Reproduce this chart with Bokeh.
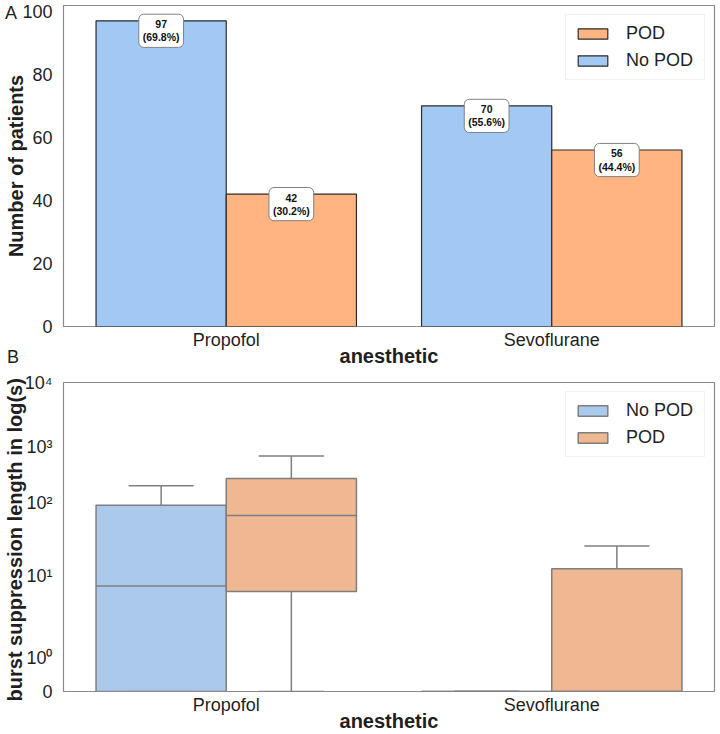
import numpy as np
from bokeh.plotting import figure
from bokeh.models import (ColumnDataSource, FactorRange, FixedTicker, Legend,
                          LegendItem, Range1d, Div)
from bokeh.transform import dodge
from bokeh.layouts import column
from bokeh.core.properties import value
from bokeh.embed import file_html
from bokeh.resources import INLINE

# ---------------- data ----------------
anesthetics = ["Propofol", "Sevoflurane"]

# panel A: number of patients per group
no_pod_counts = [97, 70]
pod_counts = [42, 56]

# panel B: burst suppression length (s), box summaries per anesthetic
no_pod_q1 = [0, 0]
no_pod_median = [7.6, 0]
no_pod_q3 = [94, 0]
no_pod_whisker_lo = [0, 0]
no_pod_whisker_hi = [206, 0]

pod_q1 = [6.5, 0]
pod_median = [68, 0]
pod_q3 = [278, 12.7]
pod_whisker_lo = [0, 0]
pod_whisker_hi = [700, 26]

count_ticks = [0, 20, 40, 60, 80, 100]
bs_tick_values = [0, 1, 10, 100, 1000, 10000]
bs_tick_labels = ["0", "10⁰", "10¹", "10²", "10³", "10⁴"]

# ---------------- style ----------------
FONT = "Liberation Sans"
TXT = "#1f1f1f"
FRAME = "#8a8a8a"
BLUE_A, ORANGE_A = "#a1c9f4", "#ffb482"
BLUE_B, ORANGE_B = "#abc9ea", "#efb792"
BOX_LINE = "#7f7f7f"

# height of each tick of the burst-suppression axis, as a fraction of the axis
bs_axis_fraction = [0.0, 0.110, 0.373, 0.609, 0.790, 1.0]


def bs_axis(v):
    """Map seconds onto the symlog-style axis (linear below 1, decades above)."""
    v = np.asarray(v, dtype=float)
    key = np.where(v >= 1, 1 + np.log10(np.maximum(v, 1)), v)
    return np.interp(key, np.arange(len(bs_axis_fraction)), bs_axis_fraction)


def style_axes(p, ylabel_standoff):
    p.xgrid.visible = False
    p.ygrid.visible = False
    p.outline_line_color = FRAME
    p.outline_line_width = 1.2
    for ax in (p.xaxis, p.yaxis):
        ax.axis_line_color = None
        ax.major_tick_line_color = None
        ax.minor_tick_line_color = None
        ax.major_label_text_font = FONT
        ax.major_label_text_font_size = "18px"
        ax.major_label_text_color = TXT
        ax.axis_label_text_font = FONT
        ax.axis_label_text_font_size = "20px"
        ax.axis_label_text_font_style = "bold"
        ax.axis_label_text_color = TXT
    p.xaxis.major_label_standoff = -3
    p.xaxis.axis_label_standoff = -8
    p.yaxis.major_label_standoff = 5
    p.yaxis.axis_label_standoff = ylabel_standoff


def style_legend(leg):
    leg.location = "top_right"
    leg.label_text_font = FONT
    leg.label_text_font_size = "18px"
    leg.label_text_color = TXT
    leg.glyph_width = 37
    leg.glyph_height = 13
    leg.label_standoff = 15
    leg.label_height = 20
    leg.label_width = 70
    leg.spacing = 6
    leg.padding = 8
    leg.margin = 9
    leg.border_line_color = "#e2e2e2"
    leg.background_fill_alpha = 0.85


def panel_letter(letter, left, top):
    """Panel letter placed on the page, beside the panel's frame."""
    return Div(text=letter, styles={
        "position": "absolute", "left": f"{left}px", "top": f"{top}px",
        "font-family": FONT, "font-size": "18px",
        "line-height": "22px", "color": TXT, "margin": "0",
    })


# ---------------- panel A: patient counts ----------------
def pct_label(n, other):
    return f"{n}\n({100 * n / (n + other):.1f}%)"


src_a = ColumnDataSource(dict(
    anesthetic=anesthetics,
    no_pod=no_pod_counts,
    pod=pod_counts,
    no_pod_label=[pct_label(a, b) for a, b in zip(no_pod_counts, pod_counts)],
    pod_label=[pct_label(b, a) for a, b in zip(no_pod_counts, pod_counts)],
))

pa = figure(width=720, height=369, x_range=FactorRange(*anesthetics),
            y_range=Range1d(0, max(no_pod_counts + pod_counts) * 1.05),
            output_backend="svg", toolbar_location=None,
            min_border_left=60, min_border_right=6,
            min_border_top=5, min_border_bottom=43)
style_axes(pa, -8)
pa.yaxis.ticker = FixedTicker(ticks=count_ticks)
pa.yaxis.axis_label = "Number of patients"
pa.xaxis.axis_label = "anesthetic"

x_no_a = dodge("anesthetic", -0.2, range=pa.x_range)
x_pod_a = dodge("anesthetic", 0.2, range=pa.x_range)
r_no = pa.vbar(x=x_no_a, top="no_pod", width=0.4, source=src_a,
               fill_color=BLUE_A, line_color="#2b2b2b", line_width=1.2)
r_pod = pa.vbar(x=x_pod_a, top="pod", width=0.4, source=src_a,
                fill_color=ORANGE_A, line_color="#2b2b2b", line_width=1.2)

label_style = dict(source=src_a, text_align="center", text_baseline="middle",
                   y_offset=10, text_font=value(FONT), text_font_style="bold",
                   text_font_size="10.5px", text_color="#111111",
                   text_line_height=1.1, background_fill_color="white",
                   border_line_color="#808080", border_line_width=1,
                   padding=4, border_radius=5)
pa.text(x=x_no_a, y="no_pod", text="no_pod_label", **label_style)
pa.text(x=x_pod_a, y="pod", text="pod_label", **label_style)

leg_a = Legend(items=[LegendItem(label="POD", renderers=[r_pod]),
                      LegendItem(label="No POD", renderers=[r_no])])
style_legend(leg_a)
pa.add_layout(leg_a)

# ---------------- panel B: burst suppression length ----------------
src_b = ColumnDataSource(dict(
    anesthetic=anesthetics,
    no_q1=bs_axis(no_pod_q1), no_med=bs_axis(no_pod_median),
    no_q3=bs_axis(no_pod_q3), no_lo=bs_axis(no_pod_whisker_lo),
    no_hi=bs_axis(no_pod_whisker_hi),
    pod_q1=bs_axis(pod_q1), pod_med=bs_axis(pod_median),
    pod_q3=bs_axis(pod_q3), pod_lo=bs_axis(pod_whisker_lo),
    pod_hi=bs_axis(pod_whisker_hi),
))

pb = figure(width=720, height=365, x_range=FactorRange(*anesthetics),
            y_range=Range1d(0, 1),
            output_backend="svg", toolbar_location=None,
            min_border_left=60, min_border_right=6,
            min_border_top=13, min_border_bottom=43)
style_axes(pb, -4)
pb.yaxis.ticker = FixedTicker(ticks=bs_axis_fraction)
pb.yaxis.major_label_overrides = {float(f): lbl for f, lbl in
                                  zip(bs_axis(bs_tick_values), bs_tick_labels)}
pb.yaxis.axis_label = "burst suppression length in  log(s)"
pb.xaxis.axis_label = "anesthetic"

box_renderers = {}
for key, off, color in (("no", -0.2, BLUE_B), ("pod", 0.2, ORANGE_B)):
    xc = dodge("anesthetic", off, range=pb.x_range)
    xl = dodge("anesthetic", off - 0.2, range=pb.x_range)
    xr = dodge("anesthetic", off + 0.2, range=pb.x_range)
    cl = dodge("anesthetic", off - 0.1, range=pb.x_range)
    cr = dodge("anesthetic", off + 0.1, range=pb.x_range)
    seg = dict(source=src_b, line_color=BOX_LINE, line_width=1.5)
    # whiskers and caps
    pb.segment(x0=xc, x1=xc, y0=f"{key}_q3", y1=f"{key}_hi", **seg)
    pb.segment(x0=xc, x1=xc, y0=f"{key}_q1", y1=f"{key}_lo", **seg)
    pb.segment(x0=cl, x1=cr, y0=f"{key}_hi", y1=f"{key}_hi", **seg)
    pb.segment(x0=cl, x1=cr, y0=f"{key}_lo", y1=f"{key}_lo", **seg)
    # box and median
    box_renderers[key] = pb.vbar(x=xc, bottom=f"{key}_q1", top=f"{key}_q3",
                                 width=0.4, source=src_b, fill_color=color,
                                 line_color=BOX_LINE, line_width=1.5)
    pb.segment(x0=xl, x1=xr, y0=f"{key}_med", y1=f"{key}_med", **seg)

leg_b = Legend(items=[LegendItem(label="No POD", renderers=[box_renderers["no"]]),
                      LegendItem(label="POD", renderers=[box_renderers["pod"]])])
style_legend(leg_b)
pb.add_layout(leg_b)

layout = column(pa, pb, panel_letter("A", 5, 2), panel_letter("B", 7, 346),
                spacing=0)
with open("out.html", "w") as f:
    f.write(file_html(layout, INLINE))
